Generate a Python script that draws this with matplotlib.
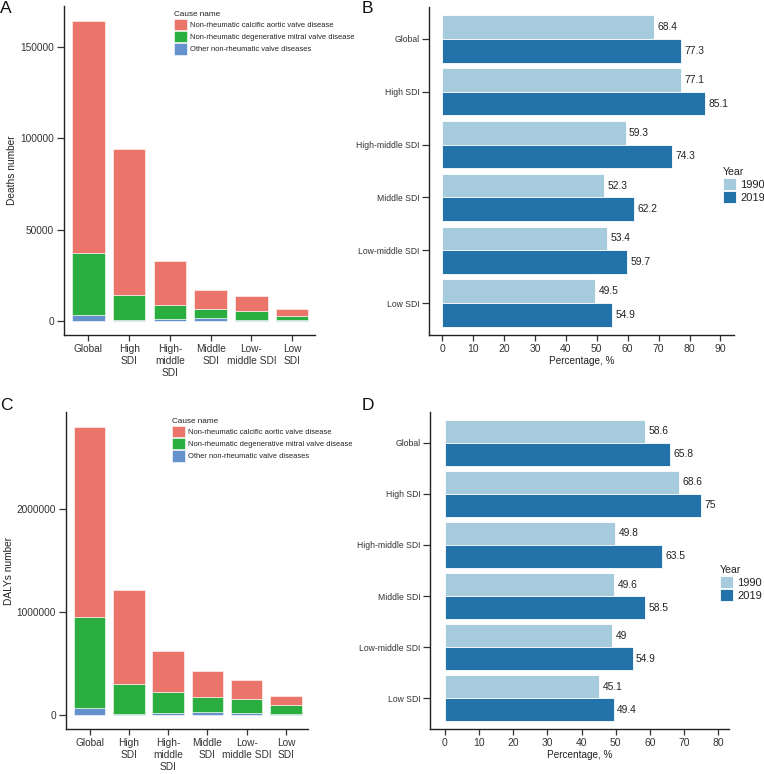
import numpy as np
import matplotlib.pyplot as plt
from matplotlib.patches import Patch

plt.rcParams['font.family'] = ['Liberation Sans', 'DejaVu Sans']
plt.rcParams['text.color'] = '#222222'
plt.rcParams['axes.labelcolor'] = '#222222'
plt.rcParams['xtick.color'] = '#333333'
plt.rcParams['ytick.color'] = '#333333'

# stacked bars (A: deaths, C: DALYs)
regions = ['Global', 'High\nSDI', 'High-\nmiddle\nSDI', 'Middle\nSDI', 'Low-\nmiddle SDI', 'Low\nSDI']
causes = ['Non-rheumatic calcific aortic valve disease',
          'Non-rheumatic degenerative mitral valve disease',
          'Other non-rheumatic valve diseases']
cause_colors = ['#EB756B', '#2AAE40', '#6592CD']

deaths_other = [3100, 500, 1000, 1300, 600, 200]
deaths_mitral = [33850, 13400, 7440, 4950, 4880, 2540]
deaths_aortic = [127200, 80230, 24460, 10580, 8220, 3510]

dalys_other = [71000, 10000, 22000, 32000, 19000, 5000]
dalys_mitral = [883000, 294000, 204000, 146000, 136000, 89000]
dalys_aortic = [1839000, 912000, 395000, 252000, 185000, 90000]

# horizontal bars (B, D)
groups = ['Global', 'High SDI', 'High-middle SDI', 'Middle SDI', 'Low-middle SDI', 'Low SDI']
years = ['1990', '2019']
year_colors = ['#A6CBDC', '#2372AA']
pct_b_1990 = [68.4, 77.1, 59.3, 52.3, 53.4, 49.5]
pct_b_2019 = [77.3, 85.1, 74.3, 62.2, 59.7, 54.9]
pct_d_1990 = [58.6, 68.6, 49.8, 49.6, 49, 45.1]
pct_d_2019 = [65.8, 75, 63.5, 58.5, 54.9, 49.4]

fig = plt.figure(figsize=(7.64, 7.74), dpi=100)
W, H = 764, 774


def px_axes(l, t, r, b):
    return fig.add_axes([l / W, 1 - b / H, (r - l) / W, (b - t) / H])


def style(ax):
    for s in ['top', 'right']:
        ax.spines[s].set_visible(False)
    for s in ['left', 'bottom']:
        ax.spines[s].set_linewidth(1.0)
        ax.spines[s].set_color('#222222')
    ax.tick_params(length=4.2, width=0.9, color='#333333', pad=2)


def stacked(ax, other, mitral, aortic, ylabel, ticks, ylim, ticklabels):
    x = np.arange(len(regions))
    other = np.array(other)
    mitral = np.array(mitral)
    aortic = np.array(aortic)
    kw = dict(width=0.8, edgecolor='white', linewidth=0.4)
    ax.bar(x, other, color=cause_colors[2], **kw)
    ax.bar(x, mitral, bottom=other, color=cause_colors[1], **kw)
    ax.bar(x, aortic, bottom=other + mitral, color=cause_colors[0], **kw)
    style(ax)
    ax.tick_params(axis='y', length=5.2)
    ax.set_xlim(-0.6, 5.56)
    ax.set_ylim(*ylim)
    ax.set_xticks(x)
    ax.set_xticklabels(regions, fontsize=7.3, linespacing=1.25)
    ax.set_yticks(ticks)
    ax.set_yticklabels(ticklabels, fontsize=7.3)
    ax.set_ylabel(ylabel, fontsize=7.3, labelpad=2)


def hbars(ax, v1990, v2019, xmax, xticks):
    y = np.arange(len(groups))[::-1]
    h = 0.45
    ax.barh(y + h / 2, v1990, height=h, color=year_colors[0], edgecolor='white', linewidth=0.6)
    ax.barh(y - h / 2, v2019, height=h, color=year_colors[1], edgecolor='white', linewidth=0.6)
    for yy, v in zip(y + h / 2, v1990):
        ax.annotate(f'{v:g}', (v, yy), xytext=(2.5, 0), textcoords='offset points',
                    va='center', ha='left', fontsize=7.4)
    for yy, v in zip(y - h / 2, v2019):
        ax.annotate(f'{v:g}', (v, yy), xytext=(2.5, 0), textcoords='offset points',
                    va='center', ha='left', fontsize=7.4)
    style(ax)
    ax.tick_params(axis='y', length=4.8)
    ax.set_ylim(-0.6, 5.6)
    ax.set_yticks(y)
    ax.set_yticklabels(groups, fontsize=6.2)
    ax.set_xlim(-4.3, xmax)
    ax.set_xticks(xticks)
    ax.tick_params(axis='x', labelsize=7.5)
    ax.set_xlabel('Percentage, %', fontsize=7.2, labelpad=2)


def cause_legend(x, y):
    handles = [Patch(facecolor=c, edgecolor='white', linewidth=0.4) for c in cause_colors]
    fig.legend(handles, causes, title='Cause name', loc='upper left',
               bbox_to_anchor=(x / W, 1 - y / H), frameon=False, fontsize=5.4,
               title_fontsize=5.9, handlelength=1.75, handleheight=1.95,
               labelspacing=0.12, handletextpad=0.45, borderpad=0, borderaxespad=0,
               alignment='left')


def year_legend(x, y):
    handles = [Patch(facecolor=c, edgecolor='white', linewidth=0.6) for c in year_colors]
    fig.legend(handles, years, title='Year', loc='upper left',
               bbox_to_anchor=(x / W, 1 - y / H), frameon=False, fontsize=8,
               title_fontsize=7.6, handlelength=1.2, handleheight=1.3,
               labelspacing=0.1, handletextpad=0.35, borderpad=0, borderaxespad=0,
               alignment='left')


axA = px_axes(64, 6, 315, 335)
stacked(axA, deaths_other, deaths_mitral, deaths_aortic, 'Deaths number',
        [0, 50000, 100000, 150000], (-7800, 172500), ['0', '50000', '100000', '150000'])
cause_legend(174, 11)

axC = px_axes(66, 412, 308, 729)
stacked(axC, dalys_other, dalys_mitral, dalys_aortic, 'DALYs number',
        [0, 1000000, 2000000], (-136000, 2943000), ['0', '1000000', '2000000'])
cause_legend(172, 418)

axB = px_axes(429, 7, 734, 335)
hbars(axB, pct_b_1990, pct_b_2019, 94.4, np.arange(0, 91, 10))
year_legend(723, 167)

axD = px_axes(430, 412, 729, 729)
hbars(axD, pct_d_1990, pct_d_2019, 83.1, np.arange(0, 81, 10))
year_legend(720, 565)

for lab, x, y in [('A', 0, 1), ('B', 362, 1), ('C', 0, 398), ('D', 362, 398)]:
    fig.text(x / W, 1 - y / H, lab, fontsize=12.5, va='top', ha='left', color='#111111')

fig.savefig('out.png', dpi=100)
